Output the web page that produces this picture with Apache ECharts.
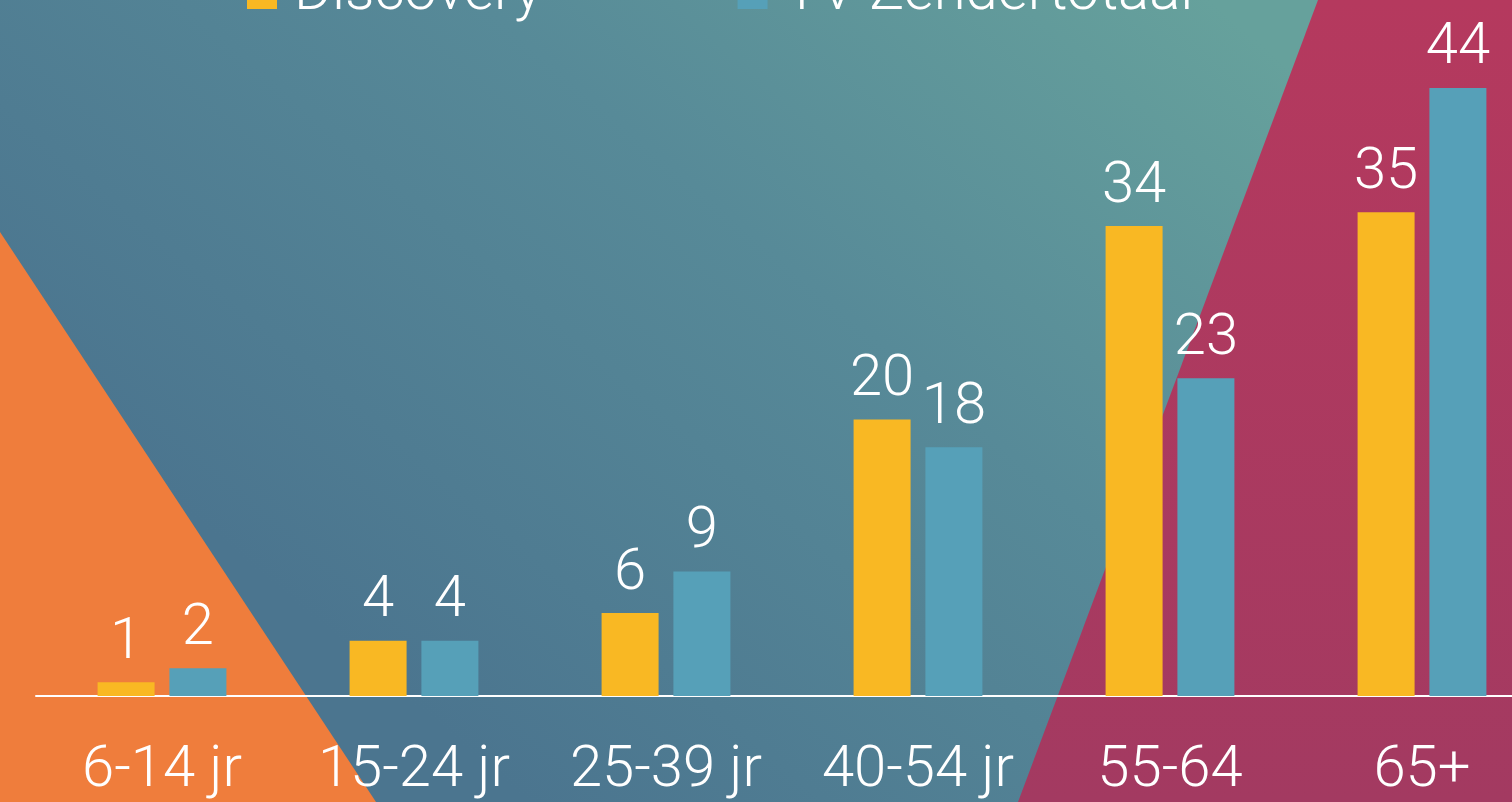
<!DOCTYPE html>
<html>
<head>
<meta charset="utf-8">
<script src="https://cdn.jsdelivr.net/npm/echarts@6/dist/echarts.min.js"></script>
<style>
  html, body { margin: 0; padding: 0; }
  #chart { width: 1512px; height: 802px; }
</style>
</head>
<body>
<div id="chart"></div>
<script>
// leeftijdsgroepen
const categories = ['6-14 jr', '15-24 jr', '25-39 jr', '40-54 jr', '55-64', '65+']
// percentages per zender
const discovery = [1, 4, 6, 20, 34, 35]
const zendertotaal = [2, 4, 9, 18, 23, 44]

let chart = echarts.init(document.getElementById('chart'))

const labelFont = {
  color: '#fff',
  fontFamily: 'Roboto',
  fontWeight: 300,
  fontSize: 58
}

chart.setOption({
  // achtergrond: verloop + gekleurde vlakken
  backgroundColor: {
    type: 'linear',
    x: 0.8, y: 0, x2: 0.35, y2: 1,
    colorStops: [
      { offset: 0, color: '#66a19c' },
      { offset: 0.45, color: '#578a98' },
      { offset: 1, color: '#4b758f' }
    ]
  },
  graphic: [
    {
      type: 'polygon',
      silent: true,
      z: -10,
      shape: { points: [[0, 232], [376, 802], [0, 802]] },
      style: { fill: '#ef7d3c' }
    },
    {
      type: 'polygon',
      silent: true,
      z: -10,
      shape: { points: [[1318, 0], [1512, 0], [1512, 802], [1018, 802]] },
      style: {
        fill: {
          type: 'linear', x: 0, y: 0, x2: 0, y2: 1,
          colorStops: [
            { offset: 0, color: '#b5395e' },
            { offset: 1, color: '#a33a61' }
          ]
        }
      }
    }
  ],
  color: ['#f9b823', '#56a0b8'],
  legend: {
    top: -40,
    left: 242,
    itemWidth: 30,
    itemHeight: 30,
    itemGap: 196,
    icon: 'rect',
    textStyle: Object.assign({}, labelFont, { padding: [0, 0, 0, 12] }),
    data: ['Discovery', 'TV Zendertotaal']
  },
  grid: {
    left: 36,
    top: 5,
    width: 1512,
    height: 691,
    outerBoundsMode: 'none',
    containLabel: false
  },
  xAxis: {
    type: 'category',
    data: categories,
    axisLine: { lineStyle: { color: '#fff', width: 2 } },
    axisTick: { show: false },
    axisLabel: Object.assign({}, labelFont, { margin: 46, interval: 0 })
  },
  yAxis: {
    type: 'value',
    min: 0,
    max: 50,
    show: false,
    splitLine: { show: false }
  },
  series: [
    {
      name: 'Discovery',
      type: 'bar',
      barWidth: 57,
      barGap: '26%',
      label: Object.assign({ show: true, position: 'top', distance: 10 }, labelFont),
      data: discovery
    },
    {
      name: 'TV Zendertotaal',
      type: 'bar',
      barWidth: 57,
      barGap: '26%',
      label: Object.assign({ show: true, position: 'top', distance: 10 }, labelFont),
      data: zendertotaal
    }
  ]
})
</script>
</body>
</html>
